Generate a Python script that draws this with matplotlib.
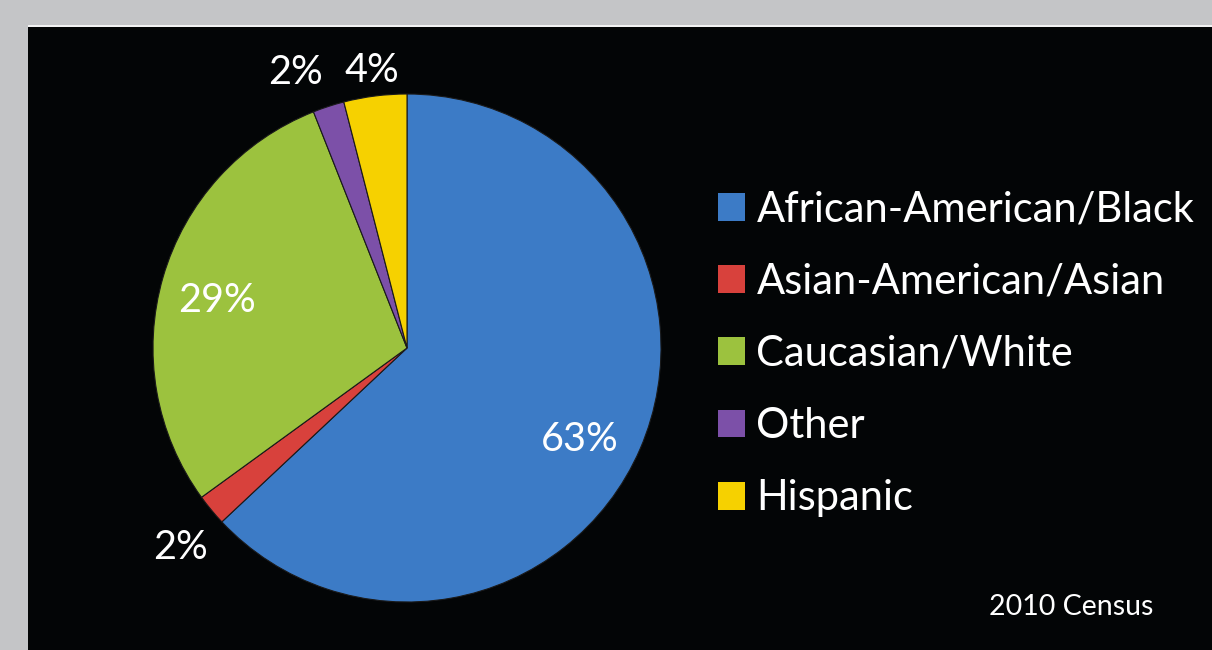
import numpy as np
import matplotlib

matplotlib.use("Agg")
import matplotlib.pyplot as plt
from matplotlib.patches import Rectangle

categories = ["African-American/Black", "Asian-American/Asian", "Caucasian/White",
              "Other", "Hispanic"]
shares = [63, 2, 29, 2, 4]
pct_labels = ["63%", "2%", "29%", "2%", "4%"]
source_note = "2010 Census"

colors = ["#3c7bc6", "#d8413c", "#9cc23e", "#7c50a8", "#f6d100"]
label_dist = [0.77, 1.19, 0.77, 1.17, 1.10]
label_shift = [-4.5, 1.8, 2.0, 4.0, 0.0]   # degrees, nudges label off mid-angle

plt.rcParams["font.family"] = ["Lato", "DejaVu Sans"]

W, H = 1212, 650
fig = plt.figure(figsize=(W / 100, H / 100), dpi=100)
fig.patch.set_facecolor("#c4c5c7")

# black panel with thin light line on top
fig.patches.append(Rectangle((28 / W, 0), 1, (H - 27) / H, transform=fig.transFigure,
                             facecolor="#030506", edgecolor="none", zorder=-10))
fig.patches.append(Rectangle((28 / W, (H - 27) / H), 1, 1.5 / H, transform=fig.transFigure,
                             facecolor="#f2f2f2", edgecolor="none", zorder=-10))

cx, cy, r = 407, 348, 254
ax = fig.add_axes([(cx - r) / W, (H - cy - r) / H, 2 * r / W, 2 * r / H])
ax.set_facecolor("none")

wedges, _ = ax.pie(shares, colors=colors, startangle=90, counterclock=False,
                   radius=1.0, wedgeprops=dict(edgecolor="#1a1a1a", linewidth=0.8))
ax.set_xlim(-1, 1)
ax.set_ylim(-1, 1)
ax.set_aspect("equal")
ax.axis("off")

for w, txt, d, s in zip(wedges, pct_labels, label_dist, label_shift):
    ang = np.deg2rad((w.theta1 + w.theta2) / 2 + s)
    ax.text(d * np.cos(ang), d * np.sin(ang), txt, ha="center", va="center",
            color="white", fontsize=28.5, clip_on=False)

leg = fig.legend(wedges, categories, loc="upper left",
                 bbox_to_anchor=(701 / W, (H - 174) / H), frameon=False,
                 fontsize=30, labelcolor="white", handlelength=0.65, handleheight=0.65,
                 handletextpad=0.28, labelspacing=0.82, borderaxespad=0)
for h in leg.legend_handles:
    h.set_edgecolor("none")

fig.text(1153 / W, (H - 607) / H, source_note, ha="right", va="center",
         color="white", fontsize=20.5)

fig.savefig("out.png", dpi=100, facecolor=fig.get_facecolor())
